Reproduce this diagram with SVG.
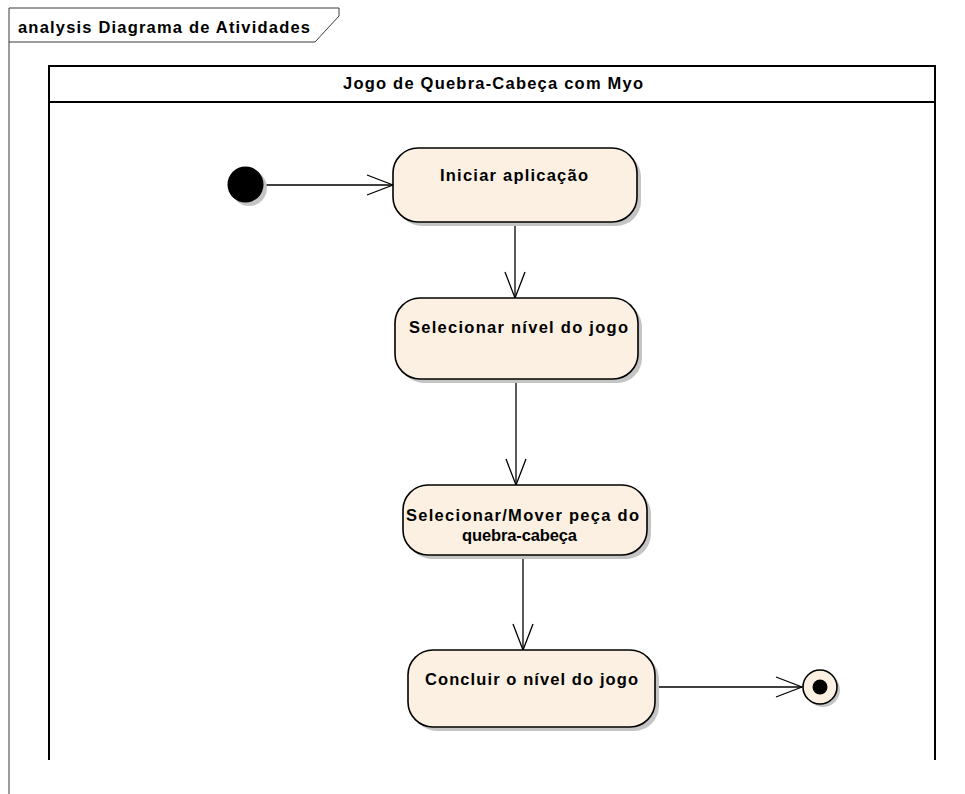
<svg xmlns="http://www.w3.org/2000/svg" width="965" height="794" viewBox="0 0 965 794">
  <defs>
    <style>
      .lbl { font-family: "Liberation Sans", Arial, sans-serif; font-weight: bold; font-size: 16.5px; fill: #000; }
      .act { fill: #FBF0E1; stroke: #000; stroke-width: 1.6; }
      .shadow { fill: #C4C4C4; }
      .edge { fill: none; stroke: #000; stroke-width: 1.3; }
      .frame { fill: none; stroke: #3a3a3a; stroke-width: 1; }
      .part { fill: none; stroke: #000; stroke-width: 2; }
    </style>
    <marker id="open" viewBox="0 0 28 22" refX="27" refY="11" markerWidth="28" markerHeight="22" markerUnits="userSpaceOnUse" orient="auto">
      <path d="M1,1 L27,11 L1,21" fill="none" stroke="#000" stroke-width="1.3"/>
    </marker>
  </defs>
  <rect x="0" y="0" width="965" height="794" fill="#fff"/>

  <!-- diagram frame -->
  <g id="frame">
    <path class="frame" d="M9,794 V8 H339 V16 L315,42 H9"/>
    <text class="lbl" x="18" y="33" textLength="292" lengthAdjust="spacing">analysis Diagrama de Atividades</text>
  </g>

  <!-- activity partition -->
  <g id="partition">
    <path class="part" d="M49,760 V66 H935 V760"/>
    <line class="part" x1="49" y1="102" x2="935" y2="102"/>
    <text class="lbl" x="343" y="89" textLength="300" lengthAdjust="spacing">Jogo de Quebra-Cabeça com Myo</text>
  </g>

  <!-- connectors -->
  <g id="connectors">
    <line class="edge" x1="264" y1="185" x2="393" y2="185" marker-end="url(#open)"/>
    <line class="edge" x1="515" y1="222" x2="515" y2="298" marker-end="url(#open)"/>
    <line class="edge" x1="516" y1="379" x2="516" y2="485" marker-end="url(#open)"/>
    <line class="edge" x1="523" y1="555" x2="523" y2="650" marker-end="url(#open)"/>
    <line class="edge" x1="655" y1="687" x2="802" y2="687" marker-end="url(#open)"/>
  </g>

  <g id="initial">
    <circle class="shadow" cx="249" cy="188" r="18"/>
    <circle cx="245.5" cy="184.5" r="18" fill="#000"/>
  </g>

  <g id="iniciar">
    <rect class="shadow" x="397" y="152" width="244" height="74" rx="25"/>
    <rect class="act" x="393" y="148" width="244" height="74" rx="25"/>
    <text class="lbl" x="440" y="181" textLength="148" lengthAdjust="spacing">Iniciar aplicação</text>
  </g>

  <g id="selecionar-nivel">
    <rect class="shadow" x="399" y="302" width="243" height="81" rx="25"/>
    <rect class="act" x="395" y="298" width="243" height="81" rx="25"/>
    <text class="lbl" x="409" y="333" textLength="219" lengthAdjust="spacing">Selecionar nível do jogo</text>
  </g>

  <g id="mover-peca">
    <rect class="shadow" x="407" y="489" width="244" height="70" rx="25"/>
    <rect class="act" x="403" y="485" width="244" height="70" rx="25"/>
    <text class="lbl" x="406" y="521" textLength="233" lengthAdjust="spacing">Selecionar/Mover peça do</text>
    <text class="lbl" x="462" y="541" textLength="115" lengthAdjust="spacing">quebra-cabeça</text>
  </g>

  <g id="concluir">
    <rect class="shadow" x="412" y="654" width="247" height="77" rx="25"/>
    <rect class="act" x="408" y="650" width="247" height="77" rx="25"/>
    <text class="lbl" x="425" y="685" textLength="213" lengthAdjust="spacing">Concluir o nível do jogo</text>
  </g>

  <g id="final">
    <circle class="shadow" cx="823" cy="690" r="17"/>
    <circle cx="820" cy="687" r="17" fill="#FBF0E1" stroke="#000" stroke-width="1.6"/>
    <circle cx="820" cy="687" r="7.5" fill="#000"/>
  </g>
</svg>
